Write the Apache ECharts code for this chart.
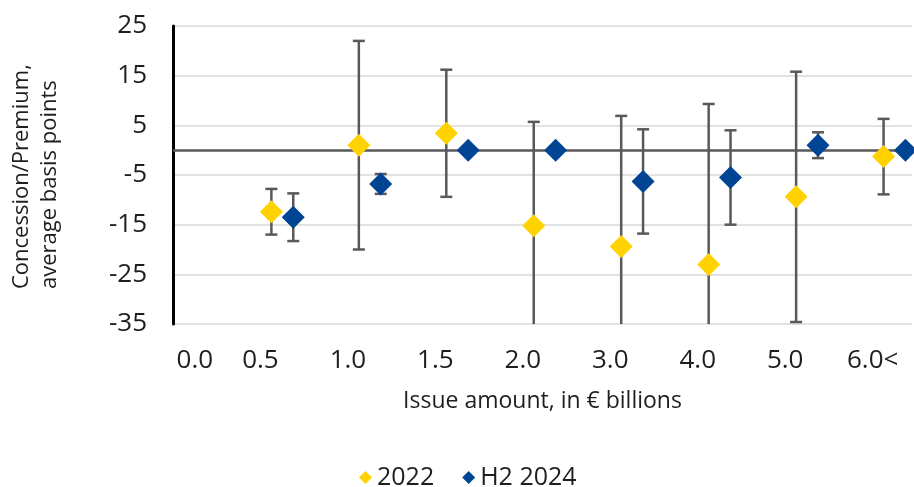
<!DOCTYPE html>
<html>
<head>
<meta charset="utf-8">
<script src="https://cdn.jsdelivr.net/npm/echarts@6/dist/echarts.min.js"></script>
<style>
  html, body { margin: 0; padding: 0; background: #fff; }
  #chart { width: 914px; height: 487px; }
</style>
</head>
<body>
<div id="chart"></div>
<script>
// issue-size buckets (one pair of markers each)
const buckets = ["0.5", "1.0", "1.5", "2.0", "3.0", "4.0", "5.0", "6.0<"];
// labels printed under the axis
const tickLabels = ["0.0", "0.5", "1.0", "1.5", "2.0", "3.0", "4.0", "5.0", "6.0<"];

// average concession/premium, bp, and +/- error
const avg2022 = [-12.4, 1.0, 3.4, -15.2, -19.4, -23.0, -9.4, -1.3];
const err2022 = [4.6, 21.0, 12.8, 20.9, 26.3, 32.3, 25.2, 7.6];
const avgH2 = [-13.5, -6.8, 0, 0, -6.3, -5.5, 1.0, 0];
const errH2 = [4.8, 2.0, 0, 0, 10.5, 9.5, 2.6, 0];

const Y_MIN = -35;
const Y_MAX = 25;
const FONT = '"Open Sans", "Liberation Sans", sans-serif';
const TEXT = "#1e1e1e";
const YELLOW = "#FFD200";
const BLUE = "#004494";

// horizontal placement: labels sit on slots, each pair sits a bit right of its label
const labelSlot = (i) => (i === 0 ? 0.25 : i);
const pairX = (i, side) => i + 1.25 + side * 0.125;
const labelBySlot = new Map(tickLabels.map((t, i) => [labelSlot(i), t]));

const points = (avg, side) => avg.map((v, i) => [pairX(i, side), v, buckets[i]]);
const bars = (avg, err, side) =>
  avg
    .map((v, i) => [pairX(i, side), v - err[i], v + err[i]])
    .filter((d, i) => err[i] > 0);

const renderErrorBar = (params, api) => {
  const x = api.value(0);
  const lo = api.value(1);
  const hi = api.value(2);
  const top = api.coord([x, Math.min(hi, Y_MAX)]);
  const bot = api.coord([x, Math.max(lo, Y_MIN)]);
  const style = { stroke: "#595959", lineWidth: 2.5 };
  const half = 6;
  const children = [
    { type: "line", shape: { x1: top[0], y1: top[1], x2: bot[0], y2: bot[1] }, style }
  ];
  if (hi <= Y_MAX) {
    children.push({ type: "line", shape: { x1: top[0] - half, y1: top[1], x2: top[0] + half, y2: top[1] }, style });
  }
  if (lo >= Y_MIN) {
    children.push({ type: "line", shape: { x1: bot[0] - half, y1: bot[1], x2: bot[0] + half, y2: bot[1] }, style });
  }
  return { type: "group", children };
};

const chart = echarts.init(document.getElementById("chart"));

chart.setOption({
  animation: false,
  textStyle: { fontFamily: FONT },
  grid: { left: 173, right: 2, top: 26, bottom: 163 },
  legend: {
    data: ["2022", "H2 2024"],
    top: 460,
    left: 354,
    icon: "diamond",
    itemWidth: 13,
    itemHeight: 13,
    itemGap: 28,
    textStyle: { fontFamily: FONT, fontSize: 25, color: TEXT }
  },
  graphic: [
    {
      type: "text",
      x: 36,
      y: 289,
      rotation: Math.PI / 2,
      style: {
        text: "Concession/Premium,\naverage basis points",
        font: "22px " + FONT,
        fill: TEXT,
        textAlign: "left",
        textVerticalAlign: "middle",
        lineHeight: 28
      }
    }
  ],
  xAxis: {
    type: "value",
    min: 0,
    max: 8.45,
    name: "Issue amount, in € billions",
    nameLocation: "middle",
    nameGap: 66,
    nameTextStyle: { fontFamily: FONT, fontSize: 23, color: TEXT },
    axisLine: { show: false },
    axisTick: { show: false },
    splitLine: { show: false },
    axisLabel: {
      customValues: tickLabels.map((t, i) => labelSlot(i)),
      formatter: (v) => labelBySlot.get(v) ?? "",
      fontFamily: FONT,
      fontSize: 26,
      color: TEXT,
      margin: 24
    }
  },
  yAxis: {
    type: "value",
    min: Y_MIN,
    max: Y_MAX,
    interval: 10,
    axisLine: { show: true, lineStyle: { color: "#000", width: 3 } },
    axisTick: { show: false },
    splitLine: { lineStyle: { color: "#d9d9d9", width: 1.5 } },
    axisLabel: { fontFamily: FONT, fontSize: 26, color: TEXT, margin: 26 }
  },
  series: [
    {
      name: "err2022",
      type: "custom",
      renderItem: renderErrorBar,
      data: bars(avg2022, err2022, -1),
      z: 2,
      silent: true,
      markLine: {
        silent: true,
        symbol: "none",
        label: { show: false },
        lineStyle: { color: "#595959", width: 2.5, type: "solid" },
        data: [{ yAxis: 0 }]
      }
    },
    {
      name: "errH2",
      type: "custom",
      renderItem: renderErrorBar,
      data: bars(avgH2, errH2, 1),
      z: 2,
      silent: true
    },
    {
      name: "2022",
      type: "scatter",
      symbol: "diamond",
      symbolSize: 23,
      itemStyle: { color: YELLOW, opacity: 1 },
      data: points(avg2022, -1),
      z: 5
    },
    {
      name: "H2 2024",
      type: "scatter",
      symbol: "diamond",
      symbolSize: 23,
      itemStyle: { color: BLUE, opacity: 1 },
      data: points(avgH2, 1),
      z: 5
    }
  ]
});
</script>
</body>
</html>
